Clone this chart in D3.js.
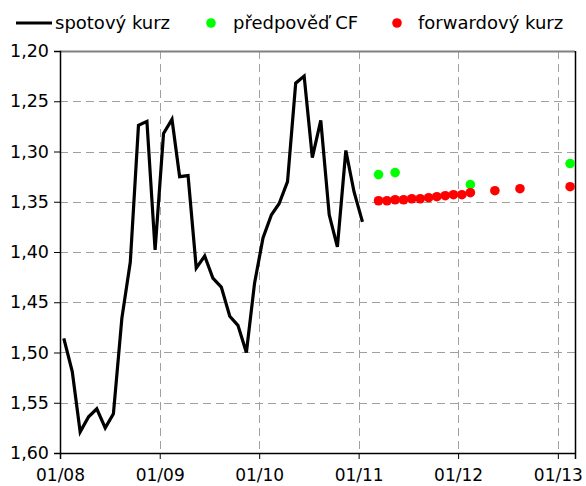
<!DOCTYPE html>
<html>
<head>
<meta charset="utf-8">
<script src="https://cdn.jsdelivr.net/npm/d3@7"></script>
<style>
  body { margin: 0; background: #fff; }
  text { font-family: "DejaVu Sans", Verdana, sans-serif; fill: #000; }
</style>
</head>
<body>
<div id="chart"></div>
<script>
// spot rate, monthly Jan 2008 - Jan 2011
var spotStart = [2008, 0];
var spotValues = [1.486, 1.519, 1.579, 1.564, 1.556, 1.575, 1.561, 1.466, 1.410, 1.274, 1.270, 1.398,
                  1.282, 1.268, 1.325, 1.324, 1.416, 1.404, 1.426, 1.435, 1.464, 1.473, 1.500, 1.431,
                  1.386, 1.363, 1.352, 1.330, 1.232, 1.225, 1.306, 1.269, 1.363, 1.395, 1.299, 1.340,
                  1.370];

// forward rate points
var fwdDates = ["2011-03", "2011-04", "2011-05", "2011-06", "2011-07", "2011-08", "2011-09", "2011-10",
                "2011-11", "2011-12", "2012-01", "2012-02", "2012-05", "2012-08", "2013-02"];
var fwdValues = [1.349, 1.349, 1.348, 1.348, 1.347, 1.347, 1.346, 1.345, 1.344, 1.343, 1.343, 1.341,
                 1.339, 1.337, 1.335];

// CF forecast points
var cfDates = ["2011-03", "2011-05", "2012-02", "2013-02"];
var cfValues = [1.323, 1.321, 1.333, 1.312];

var yTicks = [1.20, 1.25, 1.30, 1.35, 1.40, 1.45, 1.50, 1.55, 1.60];
var xTickDates = ["2008-01-01", "2009-01-01", "2010-01-01", "2011-01-01", "2012-01-01", "2013-01-01"];

var legendItems = ["spotový kurz", "předpověď CF", "forwardový kurz"];

var width = 586, height = 486;
var pLeft = 60, pRight = 575, pTop = 51, pBottom = 453;

var parseM = d3.timeParse("%Y-%m");
var parseD = d3.timeParse("%Y-%m-%d");
var mid = function(d) { return d3.timeDay.offset(d, 14); };

var spot = spotValues.map(function(v, i) {
  return { date: mid(new Date(spotStart[0], spotStart[1] + i, 1)), value: v };
});
var fwd = fwdDates.map(function(d, i) { return { date: mid(parseM(d)), value: fwdValues[i] }; });
var cf = cfDates.map(function(d, i) { return { date: mid(parseM(d)), value: cfValues[i] }; });

var svg = d3.select("#chart").append("svg").attr("width", width).attr("height", height);

var x = d3.scaleTime().domain([new Date(2008, 0, 1), new Date(2013, 2, 5)]).range([pLeft, pRight]);
var y = d3.scaleLinear().domain([1.20, 1.60]).range([pTop, pBottom]);

var fmt = function(d) { return d3.format(".2f")(d).replace(".", ","); };

// grid
var grid = svg.append("g").attr("class", "grid");
grid.selectAll("line.h").data(yTicks.slice(1, -1)).enter().append("line")
  .attr("x1", pLeft).attr("x2", pRight)
  .attr("y1", function(d) { return Math.round(y(d)) + 0.5; })
  .attr("y2", function(d) { return Math.round(y(d)) + 0.5; })
  .style("stroke", "#a0a0a0").style("stroke-width", 1).style("stroke-dasharray", "8,5");
grid.selectAll("line.v").data(xTickDates.slice(1)).enter().append("line")
  .attr("y1", pTop).attr("y2", pBottom)
  .attr("x1", function(d) { return Math.round(x(parseD(d))) + 0.5; })
  .attr("x2", function(d) { return Math.round(x(parseD(d))) + 0.5; })
  .style("stroke", "#a0a0a0").style("stroke-width", 1).style("stroke-dasharray", "8,5");

// plot border: top gray, right black
svg.append("line").attr("x1", pLeft).attr("x2", pRight).attr("y1", pTop + 0.5).attr("y2", pTop + 0.5)
  .style("stroke", "#808080").style("stroke-width", 2);
svg.append("line").attr("x1", pRight + 0.5).attr("x2", pRight + 0.5).attr("y1", pTop).attr("y2", pBottom)
  .style("stroke", "#000").style("stroke-width", 1.5);

// axes
var yAxis = d3.axisLeft(y).tickValues(yTicks).tickFormat(fmt).tickSize(6).tickPadding(5);
var gy = svg.append("g").attr("transform", "translate(" + pLeft + ",0)").call(yAxis);
gy.select(".domain").style("stroke", "#000").style("stroke-width", 1.5);
gy.selectAll("text").style("font-size", "17.5px").attr("font-family", null);

var xAxis = d3.axisBottom(x).tickValues(xTickDates.map(function(d) { return parseD(d); }))
  .tickFormat(d3.timeFormat("%m/%y")).tickSize(6).tickPadding(10);
var gx = svg.append("g").attr("transform", "translate(0," + pBottom + ")").call(xAxis);
gx.select(".domain").style("stroke", "#000").style("stroke-width", 1.5);
gx.selectAll("text").style("font-size", "17px").attr("font-family", null);
svg.selectAll(".tick line").style("stroke", "#000");

// spot line
var line = d3.line().x(function(d) { return x(d.date); }).y(function(d) { return y(d.value); });
svg.append("path").datum(spot).attr("d", line)
  .style("fill", "none").style("stroke", "#000").style("stroke-width", 3.2).style("stroke-linejoin", "miter");

// dots
svg.selectAll("circle.cf").data(cf).enter().append("circle").attr("class", "cf")
  .attr("cx", function(d) { return x(d.date); }).attr("cy", function(d) { return y(d.value); })
  .attr("r", 4.8).style("fill", "#00ff00");
svg.selectAll("circle.fwd").data(fwd).enter().append("circle").attr("class", "fwd")
  .attr("cx", function(d) { return x(d.date); }).attr("cy", function(d) { return y(d.value); })
  .attr("r", 4.8).style("fill", "#ff0000");

// legend
var leg = svg.append("g").attr("class", "legend");
leg.append("line").attr("x1", 16).attr("x2", 52).attr("y1", 23).attr("y2", 23)
  .style("stroke", "#000").style("stroke-width", 3.2);
leg.append("text").attr("x", 55).attr("y", 23).attr("dy", "0.35em").style("font-size", "18px").text(legendItems[0]);
leg.append("circle").attr("cx", 211).attr("cy", 23).attr("r", 4.8).style("fill", "#00ff00");
leg.append("text").attr("x", 233).attr("y", 23).attr("dy", "0.35em").style("font-size", "18px").text(legendItems[1]);
leg.append("circle").attr("cx", 397).attr("cy", 23).attr("r", 4.8).style("fill", "#ff0000");
leg.append("text").attr("x", 418).attr("y", 23).attr("dy", "0.35em").style("font-size", "18px").text(legendItems[2]);
</script>
</body>
</html>
